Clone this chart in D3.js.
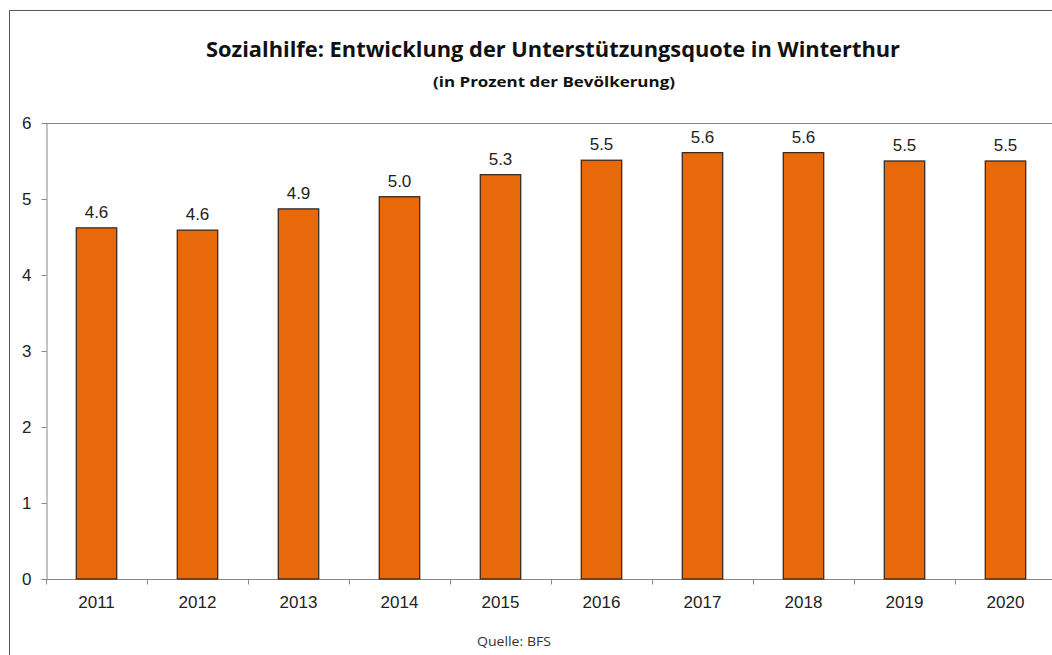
<!DOCTYPE html>
<html>
<head>
<meta charset="utf-8">
<script src="https://cdn.jsdelivr.net/npm/d3@7"></script>
<style>
  body { margin: 0; background: #fff; }
  svg { display: block; }
</style>
</head>
<body>
<div id="chart"></div>
<script>
'use strict';

// data
var years = ["2011", "2012", "2013", "2014", "2015", "2016", "2017", "2018", "2019", "2020"];
var quote = [4.62, 4.59, 4.87, 5.03, 5.32, 5.51, 5.61, 5.61, 5.50, 5.50];
var yTicks = [0, 1, 2, 3, 4, 5, 6];

var titleText = "Sozialhilfe: Entwicklung der Unterstützungsquote in Winterthur";
var subtitleText = "(in Prozent der Bevölkerung)";
var sourceText = "Quelle: BFS";

var width = 1052, height = 655;
var margin = {top: 123, right: -4, bottom: 76, left: 46};
var w = width - margin.left - margin.right,
    h = height - margin.top - margin.bottom;

var svg = d3.select("#chart")
  .append("svg")
    .attr("width", width)
    .attr("height", height);

// outer frame (only top and left visible in the crop)
svg.append("path")
  .attr("d", "M9.5," + height + "V10.5H" + width)
  .attr("fill", "none")
  .attr("stroke", "#555")
  .attr("stroke-width", 1);

// titles
svg.append("text")
  .attr("x", 553)
  .attr("y", 57)
  .attr("text-anchor", "middle")
  .attr("textLength", 694)
  .attr("lengthAdjust", "spacingAndGlyphs")
  .style("font-family", "'Open Sans', sans-serif")
  .style("font-weight", "bold")
  .style("font-size", "22px")
  .style("fill", "#111")
  .text(titleText);

svg.append("text")
  .attr("x", 554)
  .attr("y", 87)
  .attr("text-anchor", "middle")
  .attr("textLength", 242)
  .attr("lengthAdjust", "spacingAndGlyphs")
  .style("font-family", "'Open Sans', sans-serif")
  .style("font-weight", "bold")
  .style("font-size", "15px")
  .style("fill", "#111")
  .text(subtitleText);

var g = svg.append("g")
  .attr("transform", "translate(" + margin.left + "," + margin.top + ")");

var x = d3.scaleBand()
  .domain(years)
  .range([0, w])
  .paddingInner(0.6)
  .paddingOuter(0.3);

var y = d3.scaleLinear()
  .domain([0, 6])
  .range([h, 0]);

// top border of the plot area
g.append("line")
  .attr("x1", 0).attr("x2", w)
  .attr("y1", y(6) + 0.5).attr("y2", y(6) + 0.5)
  .attr("stroke", "#888");

// Y axis
var yAxis = g.append("g")
  .attr("transform", "translate(0.5,0)")
  .call(d3.axisLeft(y).tickValues(yTicks).tickFormat(d3.format("d"))
    .tickSize(5).tickPadding(10).tickSizeOuter(0));

// X axis, ticks sit between the categories
var xb = d3.scaleLinear().domain([0, years.length]).range([0, w]);
var xAxis = g.append("g")
  .attr("transform", "translate(0," + (h + 0.5) + ")");
xAxis.append("line")
  .attr("x1", 0).attr("x2", w)
  .attr("stroke", "#888");
xAxis.selectAll(".sep")
  .data(d3.range(0, years.length + 1))
  .enter()
  .append("line")
    .attr("class", "sep")
    .attr("x1", function(d) { return Math.round(xb(d)) + 0.5; })
    .attr("x2", function(d) { return Math.round(xb(d)) + 0.5; })
    .attr("y1", 0).attr("y2", 5)
    .attr("stroke", "#888");
xAxis.selectAll(".lab")
  .data(years)
  .enter()
  .append("text")
    .attr("class", "lab")
    .attr("x", function(d) { return x(d) + x.bandwidth() / 2; })
    .attr("y", 28)
    .attr("text-anchor", "middle")
    .style("font-family", "Arial, 'Liberation Sans', sans-serif")
    .style("font-size", "17px")
    .style("fill", "#222")
    .text(function(d) { return d; });

yAxis.select(".domain").attr("stroke", "#888");
yAxis.selectAll(".tick line").attr("stroke", "#888");
yAxis.selectAll(".tick text")
  .style("font-family", "Arial, 'Liberation Sans', sans-serif")
  .style("font-size", "17px")
  .style("fill", "#222");

// bars
g.append("g")
  .selectAll("rect")
  .data(quote)
  .enter()
  .append("rect")
    .attr("x", function(d, i) { return x(years[i]); })
    .attr("y", function(d) { return y(d); })
    .attr("width", x.bandwidth())
    .attr("height", function(d) { return h - y(d); })
    .attr("fill", "#E8690A")
    .attr("stroke", "#3a2a20")
    .attr("stroke-width", 1.3);

// value labels
g.append("g")
  .selectAll("text")
  .data(quote)
  .enter()
  .append("text")
    .attr("x", function(d, i) { return x(years[i]) + x.bandwidth() / 2; })
    .attr("y", function(d) { return y(d) - 10; })
    .attr("text-anchor", "middle")
    .style("font-family", "Arial, 'Liberation Sans', sans-serif")
    .style("font-size", "17px")
    .style("fill", "#222")
    .text(function(d) { return d3.format(".1f")(d); });

// source
svg.append("text")
  .attr("x", 514)
  .attr("y", 646)
  .attr("text-anchor", "middle")
  .attr("textLength", 74)
  .attr("lengthAdjust", "spacingAndGlyphs")
  .style("font-family", "'Open Sans', sans-serif")
  .style("font-size", "13.5px")
  .style("fill", "#333")
  .text(sourceText);
</script>
</body>
</html>
